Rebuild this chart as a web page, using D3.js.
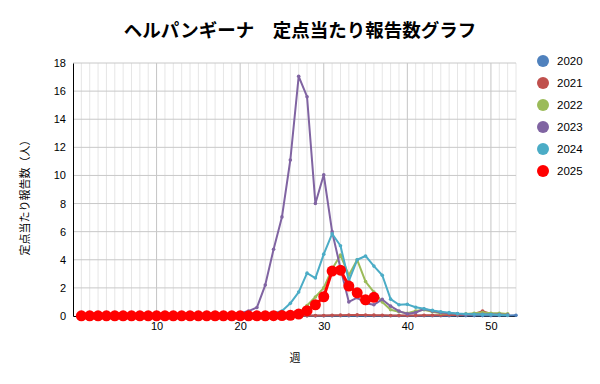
<!DOCTYPE html>
<html>
<head>
<meta charset="utf-8">
<script src="https://cdn.jsdelivr.net/npm/d3@7"></script>
<style>
  body { margin: 0; background: #fff; }
  text { font-family: "Liberation Sans", "Noto Sans CJK JP", sans-serif; }
  .jp { font-family: "Noto Sans CJK JP", sans-serif; }
</style>
</head>
<body>
<div id="chart"></div>
<script>
const years = ["2020", "2021", "2022", "2023", "2024", "2025"];
const colors = ["#4f81bd", "#c0504d", "#9bbb59", "#8064a2", "#4bacc6", "#ff0000"];

const v2020 = [0.05,0.04,0.03,0.03,0.02,0.02,0.02,0.02,0.01,0.01,0.01,0.01,0.01,0.01,0.01,0.01,0.01,0.01,0.01,0.01,
  0.01,0.01,0.01,0.01,0.01,0.01,0.01,0.01,0.01,0.01,0.01,0.02,0.02,0.02,0.02,0.02,0.02,0.02,0.02,0.02,
  0.02,0.02,0.02,0.02,0.02,0.03,0.03,0.03,0.03,0.03,0.04,0.04,0.05];
const v2021 = [0.01,0.01,0.01,0.01,0.01,0.01,0.01,0.01,0.01,0.01,0.01,0.01,0.01,0.01,0.01,0.01,0.01,0.01,0.01,0.01,
  0.01,0.01,0.01,0.02,0.02,0.02,0.02,0.03,0.03,0.04,0.05,0.06,0.07,0.08,0.07,0.06,0.05,0.04,0.04,0.04,
  0.04,0.05,0.05,0.06,0.07,0.08,0.1,0.15,0.35,0.15,0.1,0.08];
const v2022 = [0.01,0.01,0.01,0.01,0.01,0.01,0.01,0.01,0.01,0.01,0.01,0.01,0.01,0.01,0.01,0.01,0.01,0.01,0.01,0.01,
  0.02,0.02,0.03,0.04,0.06,0.1,0.2,0.75,1.35,2.0,3.35,4.33,2.9,4.0,2.45,1.7,1.0,0.45,0.3,0.2,
  0.35,0.45,0.3,0.2,0.2,0.15,0.15,0.2,0.25,0.2,0.2,0.15];
const v2023 = [0.05,0.05,0.04,0.04,0.04,0.04,0.04,0.05,0.05,0.05,0.05,0.06,0.06,0.07,0.08,0.08,0.1,0.12,0.15,0.2,
  0.35,0.6,2.2,4.75,7.05,11.1,17.05,15.6,8.0,10.05,6.0,3.4,1.0,1.3,0.9,0.8,1.18,0.7,0.35,0.15,
  0.25,0.5,0.35,0.25,0.2,0.15,0.1,0.1,0.12,0.1,0.1,0.08];
const v2024 = [0.08,0.07,0.06,0.06,0.05,0.05,0.05,0.05,0.05,0.05,0.06,0.06,0.06,0.07,0.07,0.08,0.08,0.09,0.1,0.1,
  0.12,0.15,0.15,0.2,0.35,0.9,1.7,3.05,2.7,4.4,5.85,5.0,2.5,4.0,4.27,3.55,2.9,1.2,0.8,0.83,
  0.62,0.52,0.4,0.3,0.24,0.17,0.14,0.12,0.1,0.1,0.08,0.05];
const v2025 = [0.01,0.01,0.01,0.01,0.01,0.01,0.01,0.01,0.01,0.01,0.01,0.01,0.01,0.01,0.01,0.01,0.01,0.01,0.01,0.01,
  0.01,0.01,0.01,0.02,0.03,0.05,0.14,0.38,0.8,1.37,3.2,3.26,2.13,1.65,1.15,1.33];

const seriesValues = [v2020, v2021, v2022, v2023, v2024, v2025];
const xTicks = [10, 20, 30, 40, 50];
const yTicks = [0, 2, 4, 6, 8, 10, 12, 14, 16, 18];

const width = 600, height = 384;
const margin = { top: 63, right: 84, bottom: 68, left: 73 };
const plotW = width - margin.left - margin.right;
const plotH = height - margin.top - margin.bottom;

const svg = d3.select("#chart").append("svg")
    .attr("width", width)
    .attr("height", height);

const g = svg.append("g")
    .attr("transform", `translate(${margin.left}, ${margin.top})`);

const x = d3.scaleLinear().domain([0, 53]).range([0, plotW]);
const y = d3.scaleLinear().domain([0, 18]).range([plotH, 0]);

// week gridlines, darker every 10 weeks
g.append("g")
    .selectAll("line")
    .data(d3.range(1, 54))
    .join("line")
    .attr("x1", d => x(d)).attr("x2", d => x(d))
    .attr("y1", 0).attr("y2", plotH)
    .attr("stroke", d => d % 10 === 0 ? "#c4c4c4" : "#e6e6e6")
    .attr("stroke-width", 1);

g.append("g")
    .selectAll("line")
    .data(yTicks.slice(1))
    .join("line")
    .attr("x1", 0).attr("x2", plotW)
    .attr("y1", d => y(d)).attr("y2", d => y(d))
    .attr("stroke", "#c8c8c8")
    .attr("stroke-width", 1);

const yAxis = d3.axisLeft(y).tickValues(yTicks).tickSize(0).tickPadding(7);
const yG = g.append("g").call(yAxis);
yG.select(".domain").attr("stroke", "#000");
yG.selectAll("text").attr("font-size", 11).attr("fill", "#000");

const xAxis = d3.axisBottom(x).tickValues(xTicks).tickSize(0).tickPadding(6);
const xG = g.append("g").attr("transform", `translate(0, ${plotH})`).call(xAxis);
xG.select(".domain").attr("stroke", "#000");
xG.selectAll("text").attr("font-size", 11).attr("fill", "#000");

const line = d3.line()
    .x((d, i) => x(i + 1))
    .y(d => y(d));

seriesValues.forEach((vals, k) => {
    const last = k === 5;
    g.append("path")
        .datum(vals)
        .attr("fill", "none")
        .attr("stroke", colors[k])
        .attr("stroke-width", last ? 3 : 2)
        .attr("stroke-linejoin", "round")
        .attr("d", line);

    g.append("g")
        .selectAll("circle")
        .data(vals)
        .join("circle")
        .attr("cx", (d, i) => x(i + 1))
        .attr("cy", d => y(d))
        .attr("r", last ? 5.5 : 1.8)
        .attr("fill", colors[k]);
});

const legend = svg.append("g").attr("transform", "translate(543, 61)");
years.forEach((yr, k) => {
    legend.append("circle")
        .attr("cx", 0).attr("cy", k * 22)
        .attr("r", 6)
        .attr("fill", colors[k]);
    legend.append("text")
        .attr("x", 14).attr("y", k * 22 + 4)
        .attr("font-size", 11.5)
        .attr("fill", "#000")
        .text(yr);
});

svg.append("text")
    .attr("class", "jp")
    .attr("x", 300).attr("y", 37)
    .attr("text-anchor", "middle")
    .attr("font-size", 18.5)
    .attr("font-weight", "bold")
    .text("ヘルパンギーナ　定点当たり報告数グラフ");

svg.append("text")
    .attr("class", "jp")
    .attr("transform", "translate(29, 195) rotate(-90)")
    .attr("text-anchor", "middle")
    .attr("font-size", 11)
    .text("定点当たり報告数（人）");

svg.append("text")
    .attr("class", "jp")
    .attr("x", 295).attr("y", 362)
    .attr("text-anchor", "middle")
    .attr("font-size", 11)
    .text("週");
</script>
</body>
</html>
